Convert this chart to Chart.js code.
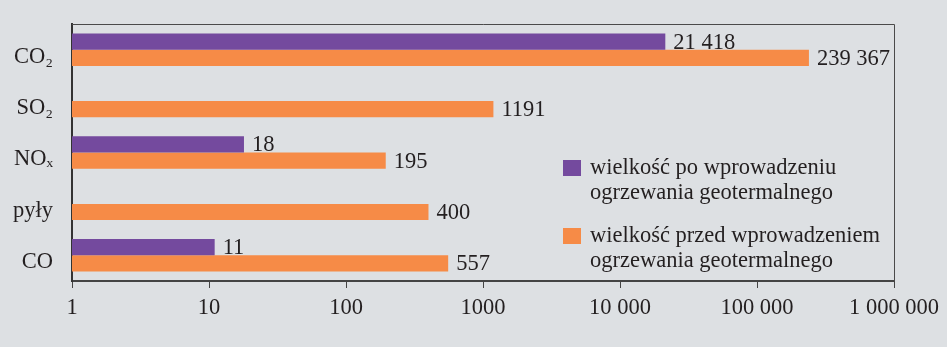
<!DOCTYPE html>
<html>
<head>
<meta charset="utf-8">
<script src="https://cdn.jsdelivr.net/npm/chart.js@4/dist/chart.umd.min.js"></script>
<style>
  html, body { margin:0; padding:0; background:#dde0e3; }
  #wrap { width:947px; height:347px; position:relative; }
</style>
</head>
<body>
<div id="wrap"><canvas id="c"></canvas></div>
<script>
const categories = ["CO₂", "SO₂", "NOₓ", "pyły", "CO"];
const afterValues = [21418, null, 18, null, 11];
const beforeValues = [239367, 1191, 195, 400, 557];
const seriesNames = [
  ["wielkość po wprowadzeniu", "ogrzewania geotermalnego"],
  ["wielkość przed wprowadzeniem", "ogrzewania geotermalnego"]
];
const tickValues = [1, 10, 100, 1000, 10000, 100000, 1000000];
const tickLabels = ["1", "10", "100", "1000", "10 000", "100 000", "1 000 000"];

const PURPLE = "#744a9e";
const ORANGE = "#f68b47";
const TEXT = "#231f20";
const FONT = "'Liberation Serif', 'Times New Roman', serif";
const FS = 22.5;

function fmt(v) {
  if (v < 10000) return String(v);
  return String(v).replace(/\B(?=(\d{3})+(?!\d))/g, " ");
}

const valueLabels = {
  id: "valueLabels",
  afterDatasetsDraw(chart) {
    const ctx = chart.ctx;
    ctx.save();
    ctx.font = FS + "px " + FONT;
    ctx.fillStyle = TEXT;
    ctx.textAlign = "left";
    ctx.textBaseline = "middle";
    chart.data.datasets.forEach((ds, di) => {
      const meta = chart.getDatasetMeta(di);
      meta.data.forEach((el, i) => {
        const v = ds.data[i];
        if (v == null) return;
        ctx.fillText(fmt(v), el.x + 8, el.y + 1);
      });
    });
    ctx.restore();
  }
};

const frame = {
  id: "frame",
  afterDraw(chart) {
    const a = chart.chartArea;
    const ctx = chart.ctx;
    ctx.save();
    ctx.strokeStyle = "#4a4a4a";
    ctx.lineWidth = 1;
    ctx.beginPath();
    ctx.moveTo(a.left, a.top + 0.5);
    ctx.lineTo(a.right + 0.5, a.top + 0.5);
    ctx.lineTo(a.right + 0.5, a.bottom);
    ctx.stroke();
    ctx.restore();
  }
};

const customLegend = {
  id: "customLegend",
  afterDraw(chart) {
    const ctx = chart.ctx;
    const a = chart.chartArea;
    const x0 = a.left + 491;
    const tops = [a.top + 144, a.top + 212];
    ctx.save();
    ctx.font = FS + "px " + FONT;
    ctx.textBaseline = "middle";
    ctx.textAlign = "left";
    chart.data.datasets.forEach((ds, di) => {
      const y = tops[di];
      ctx.fillStyle = ds.backgroundColor;
      ctx.fillRect(x0, y - 8, 18, 16);
      ctx.fillStyle = TEXT;
      seriesNames[di].forEach((line, li) => {
        ctx.fillText(line, x0 + 27, y + li * 25);
      });
    });
    ctx.restore();
  }
};

new Chart(document.getElementById("c"), {
  type: "bar",
  data: {
    labels: categories,
    datasets: [
      { label: seriesNames[0].join(" "), data: afterValues, backgroundColor: PURPLE },
      { label: seriesNames[1].join(" "), data: beforeValues, backgroundColor: ORANGE }
    ]
  },
  options: {
    indexAxis: "y",
    responsive: true,
    maintainAspectRatio: false,
    animation: false,
    layout: { padding: { top: 24, right: 53, left: 0, bottom: 0 } },
    categoryPercentage: 0.63,
    barPercentage: 1.0,
    plugins: { legend: { display: false }, tooltip: { enabled: false } },
    scales: {
      x: {
        type: "logarithmic",
        min: 1,
        max: 1000000,
        afterFit(s) { s.height = 66; s.paddingLeft = 0; s.paddingRight = 0; },
        afterBuildTicks(s) { s.ticks = tickValues.map(v => ({ value: v })); },
        ticks: {
          color: TEXT,
          font: { family: FONT, size: FS },
          padding: 7,
          autoSkip: false,
          maxRotation: 0,
          callback(v) { const i = tickValues.indexOf(v); return i >= 0 ? tickLabels[i] : ""; }
        },
        grid: { display: true, drawOnChartArea: false, drawTicks: true, tickLength: 7, color: "#444", lineWidth: 1 },
        border: { display: true, color: "#444", width: 2 }
      },
      y: {
        afterFit(s) { s.width = 72; s.paddingTop = 0; s.paddingBottom = 0; },
        ticks: { color: TEXT, font: { family: FONT, size: FS }, padding: 19, labelOffset: 7 },
        grid: { display: false, drawTicks: false },
        border: { display: true, color: "#333", width: 2 }
      }
    }
  },
  plugins: [valueLabels, frame, customLegend]
});
</script>
</body>
</html>
